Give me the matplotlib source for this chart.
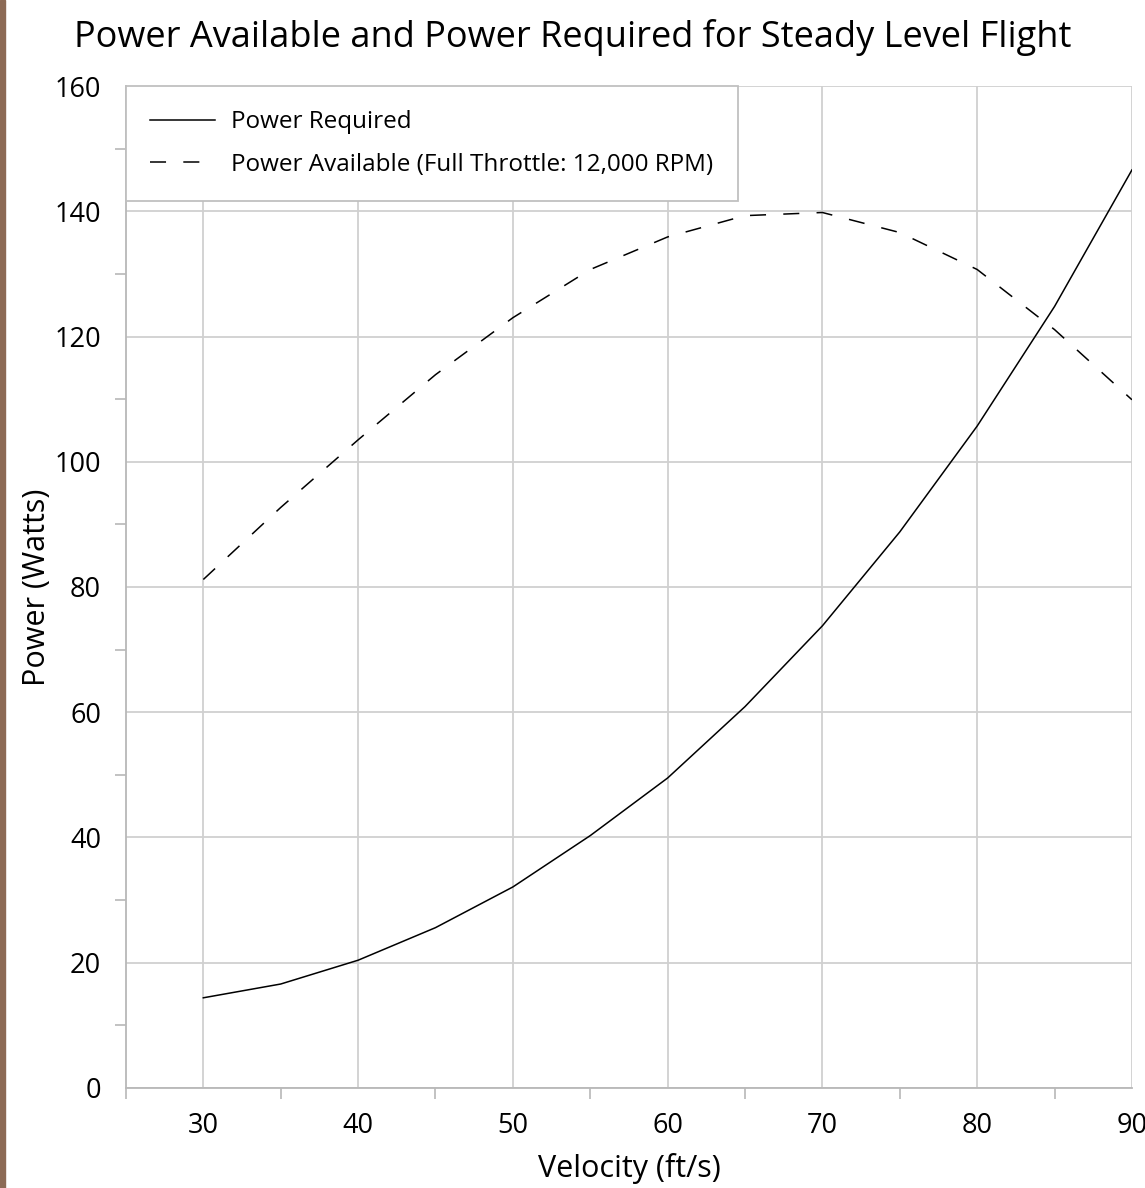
import numpy as np
import matplotlib.pyplot as plt
from matplotlib.patches import Rectangle

# Velocity (ft/s)
velocity = [30, 35, 40, 45, 50, 55, 60, 65, 70, 75, 80, 85, 90]
# Power (W)
power_required = [14.4, 16.6, 20.4, 25.6, 32.1, 40.3, 49.5, 60.9, 73.8, 88.8, 105.7, 124.8, 146.6]
power_available = [81.2, 92.7, 103.5, 113.9, 123.0, 130.7, 135.9, 139.3, 139.8, 136.6, 130.7, 121.1, 109.9]

x_labels = [30, 40, 50, 60, 70, 80, 90]
y_labels = [0, 20, 40, 60, 80, 100, 120, 140, 160]

plt.rcParams["font.family"] = ["Open Sans", "DejaVu Sans"]
grid_color = "#d0d0d0"

fig = plt.figure(figsize=(11.45, 11.88), dpi=100)
fig.patches.append(Rectangle((0, 0), 5 / 1145, 1, transform=fig.transFigure,
                             color="#8c6a55", zorder=0))
ax = fig.add_axes([0.110, 0.0842, 0.8786, 0.8434])

ax.plot(velocity, power_required, color="black", lw=1.1, label="Power Required")
ax.plot(velocity, power_available, color="black", lw=1.1, dashes=(10.5, 11.3),
        label="Power Available (Full Throttle: 12,000 RPM)")

ax.set_xlim(25, 90)
ax.set_ylim(0, 160)
ax.set_xticks(x_labels)
ax.set_yticks(y_labels)
ax.set_xticks(np.arange(25, 90, 10), minor=True)
ax.set_yticks(np.arange(10, 160, 20), minor=True)
ax.tick_params(axis="x", which="major", length=0, labelsize=19.5, pad=17)
ax.tick_params(axis="y", which="major", length=0, labelsize=19.5, pad=18)
ax.tick_params(axis="both", which="minor", length=8, width=1.2, color="#b8b8b8",
               direction="out")
ax.grid(which="major", color=grid_color, lw=1.3)
ax.set_axisbelow(True)
for s in ["top", "right"]:
    ax.spines[s].set_visible(False)
for s in ["left", "bottom"]:
    ax.spines[s].set_color("#b8b8b8")
    ax.spines[s].set_linewidth(1.3)

ax.set_xlabel("Velocity (ft/s)", fontsize=22, labelpad=10)
ax.set_ylabel("Power (Watts)", fontsize=22, labelpad=2)
fig.text(0.5, 1 - 37 / 1188, "Power Available and Power Required for Steady Level Flight",
         fontsize=26, ha="center", va="center")

leg = ax.legend(loc="upper left", borderaxespad=0, fontsize=17.5, fancybox=False,
                handlelength=2.68, handletextpad=0.65, borderpad=1.0,
                labelspacing=0.75, framealpha=1)
leg.get_frame().set_edgecolor("#c0c0c0")
leg.get_frame().set_linewidth(1.3)

fig.savefig("out.png", dpi=100, facecolor="white")
